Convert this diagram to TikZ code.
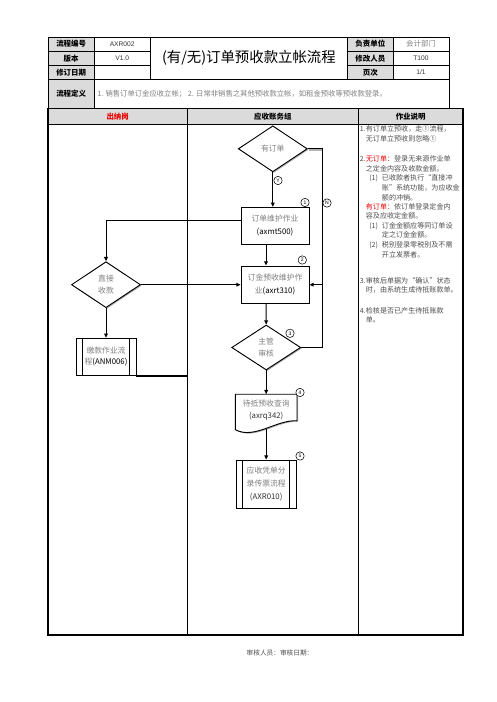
\documentclass[tikz,border=0pt]{standalone}
\usepackage{fontspec}
\setmainfont{Noto Sans CJK SC}
\newfontfamily\lat{Liberation Sans}
\usetikzlibrary{shapes.geometric,arrows.meta,calc,shadows}
\definecolor{hdr}{gray}{0.86}
\definecolor{txtgray}{gray}{0.5}
\definecolor{notec}{gray}{0.3}
\definecolor{redc}{RGB}{235,0,0}
\begin{document}
\begin{tikzpicture}[x=0.75pt,y=-0.75pt,
  every node/.style={inner sep=0pt},
  tline/.style={line width=0.7pt},
  tthick/.style={line width=1.1pt},
  lbl/.style={font=\bfseries\fontsize{5.6}{6.5}\selectfont},
  val/.style={font=\lat\fontsize{5}{6}\selectfont,text=black!80},
  ftxt/.style={font=\fontsize{5.85}{9}\selectfont,text=txtgray,align=center},
  shd/.style={drop shadow={shadow xshift=0.8pt,shadow yshift=-0.8pt,fill=gray!65,opacity=1}},
  procbox/.style={draw,fill=white,line width=0.7pt,ftxt,shd},
  decis/.style={diamond,draw,fill=white,line width=0.7pt,ftxt,shd,minimum width=51.75pt,minimum height=34.5pt},
  conn/.style={line width=0.75pt},
  arr/.style={conn,-{Triangle[length=3.2pt,width=2.8pt]}},
  stepnum/.style={circle,draw,line width=0.4pt,fill=white,minimum size=6.3pt,font=\lat\fontsize{3.8}{4}\selectfont},
  note/.style={anchor=west,font=\fontsize{5.3}{7}\selectfont,text=notec,text height=4.2pt,text depth=1.2pt},
]
\useasboundingbox (0,0) rectangle (496,702);

% ---------- header table ----------
\fill[hdr] (48,37) rectangle (94.3,108);
\fill[hdr] (347.7,37) rectangle (393,79.5);
\fill[hdr] (48,108.5) rectangle (463,124.3);
\draw[tline] (48,37) rectangle (449,108.5);
\draw[tline] (48,51) -- (150,51) (48,65.7) -- (150,65.7);
\draw[tline] (347.7,51) -- (449,51) (347.7,65.7) -- (449,65.7);
\draw[tline] (48,79.5) -- (449,79.5);
\draw[tline] (94.3,37) -- (94.3,108.5) (150,37) -- (150,79.5)
             (347.7,37) -- (347.7,79.5) (393,37) -- (393,79.5);

\node[lbl] (h1) at (71.2,44) {流程编号};
\node[lbl] (h2) at (71.2,58.4) {版本};
\node[lbl] (h3) at (71.2,72.6) {修订日期};
\node[lbl] (h4) at (71.2,93.8) {流程定义};
\node[val] (v1) at (122.2,44) {AXR002};
\node[val] (v2) at (122.2,58.4) {V1.0};
\node[lbl] (h5) at (370.4,44) {负责单位};
\node[lbl] (h6) at (370.4,58.4) {修改人员};
\node[lbl] (h7) at (370.4,72.6) {页次};
\node[font=\fontsize{5.6}{6.5}\selectfont,text=txtgray] (v5) at (421,44) {会计部门};
\node[val] (v6) at (421,58.4) {T100};
\node[val] (v7) at (421,72.6) {1/1};
\node[font=\fontsize{10.8}{12}\selectfont] (title) at (248.9,58.3) {(有/无)订单预收款立帐流程};
\node[anchor=west,font=\fontsize{5.5}{6.5}\selectfont,text=txtgray] (def) at (97,93.8)
  {1. 销售订单订金应收立帐； 2. 日常非销售之其他预收款立帐，如租金预收等预收款登录。};

% ---------- lane table ----------
\draw[tthick] (48,108.5) rectangle (463,635);
\draw[tthick] (48,124.3) -- (463,124.3);
\draw[tthick] (187.3,108.5) -- (187.3,635) (358.3,108.5) -- (358.3,635);
\node[lbl,text=redc] (l1) at (117.7,116.4) {出纳岗};
\node[lbl] (l2) at (272.8,116.4) {应收账务组};
\node[lbl] (l3) at (410.7,116.4) {作业说明};

% ---------- flow ----------
\coordinate (rx) at (322.7,0);
\coordinate (lx) at (187.3,0);

\node[decis] (d1) at (272.8,148.8) {有订单};
\node[procbox,minimum width=51pt,minimum height=27.75pt,font=\fontsize{5.85}{9.5}\selectfont] (b1) at (275,225.8)
  {订单维护作业\\\textcolor{black}{(axmt500)}};
\node[procbox,minimum width=51pt,minimum height=28pt,font=\fontsize{5.85}{10}\selectfont] (b2) at (275,284.7)
  {订金预收维护作\\业\textcolor{black}{(axrt310)}};
\node[decis,font=\fontsize{5.85}{8.6}\selectfont] (d2) at (106,284.7) {直接\\收款};
\node[procbox,minimum width=45pt,minimum height=27.75pt,font=\fontsize{5.85}{8}\selectfont] (b3) at (106,356.8)
  {缴款作业流\\程\textcolor{black}{(ANM006)}};
\node[decis,minimum height=33.75pt,font=\fontsize{5.85}{9.5}\selectfont] (d3) at (266.2,347.5) {主管\\审核};
\node[ftxt,minimum width=45.75pt,minimum height=24.75pt,font=\fontsize{5.85}{8.5}\selectfont] (doc) at (266.2,411) {};
\draw[line width=0.7pt,fill=white,shd]
  (doc.north west) -- ($(doc.north west)+(0,35.5)$)
  .. controls ($(doc.north west)+(19,45.5)$) and ($(doc.north east)+(-21,25.5)$) .. ($(doc.north east)+(0,26.5)$)
  -- (doc.north east) -- cycle;
\node[ftxt,font=\fontsize{5.85}{8.5}\selectfont] (doctxt) at (266.2,410) {待抵预收查询\\\textcolor{black!80}{(axrq342)}};
\node[procbox,minimum width=45pt,minimum height=36.2pt,font=\fontsize{5.85}{9.6}\selectfont] (b5) at (266.2,484.2)
  {应收凭单分\\录传票流程\\\textcolor{black!80}{(AXR010)}};

% inner lines of predefined process boxes
\draw[line width=0.7pt] ([xshift=5pt]b3.north west) -- ([xshift=5pt]b3.south west)
  ([xshift=-5.5pt]b3.north east) -- ([xshift=-5.5pt]b3.south east);
\draw[line width=0.7pt] ([xshift=5pt]b5.north west) -- ([xshift=5pt]b5.south west)
  ([xshift=-5.5pt]b5.north east) -- ([xshift=-5.5pt]b5.south east);

% connectors
\draw[gray!60,line width=1.6pt] ($(d1.east)+(1,1.3)$) -- ($(d1.east -| rx)+(-1,1.3)$);
\draw[arr] (d1.east) -| (rx |- b2.east) -- (b2.east);
\draw[conn] (d3.east) -| (rx |- b2.east);
\draw[arr] (d1.south) -- (d1.south |- b1.north);
\draw[arr] ([yshift=4.3pt]b1.west) -| (d2.north);
\draw[arr] ([xshift=-6.75pt]b1.south) -- ([xshift=-6.75pt]b2.north);
\draw[arr] (d2.east) -- (b2.west);
\draw[arr] (d2.south) -- (b3.north);
\draw[line width=1.1pt] (b3.south east) -| (lx |- d2.east);
\draw[arr] ([xshift=-6.75pt]b2.south) -- (d3.north);
\draw[arr] (d3.south) -- (doc.north);
\draw[arr] ($(doc.south)+(0,1.4)$) -- (b5.north);

% step markers
\node[stepnum] (sY) at (278,180.5) {Y};
\node[stepnum] (s1) at (305,202.5) {1};
\node[stepnum] (sN) at (327,203) {N};
\node[stepnum] (s2) at (302.3,260) {2};
\node[stepnum] (s3) at (290,333.3) {3};
\node[stepnum] (s4) at (300,392.5) {4};
\node[stepnum] (s5) at (300,456) {5};

% ---------- notes ----------
\node[note] (n1) at (359.5,130) {\makebox[4.6pt][l]{1.}有订单立预收，走①流程，};
\node[note] (n2) at (365.6,139.5) {无订单立预收则忽略①};
\node[note] (n3) at (359.5,160) {\makebox[4.6pt][l]{2.}\textcolor{redc}{无订单}：登录无来源作业单};
\node[note] (n4) at (365.6,169.5) {之定金内容及收款金额。};
\node[note] (n5) at (369,179) {\makebox[9.5pt][l]{(1)}已收款者执行“直接冲};
\node[note] (n6) at (381.7,188.5) {账”系统功能，为应收金};
\node[note] (n7) at (381.7,198) {额的冲销。};
\node[note] (n8) at (365.6,207.5) {\textcolor{redc}{有订单}：依订单登录定金内};
\node[note] (n9) at (365.6,217) {容及应收定金额。};
\node[note] (n10) at (369,226.5) {\makebox[9.5pt][l]{(1)}订金金额应等同订单设};
\node[note] (n11) at (381.7,236) {定之订金金额。};
\node[note] (n12) at (369,245.5) {\makebox[9.5pt][l]{(2)}税别登录零税别及不需};
\node[note] (n13) at (381.7,255) {开立发票者。};
\node[note] (n14) at (359.5,281) {\makebox[4.6pt][l]{3.}审核后单据为“确认”状态};
\node[note] (n15) at (365.6,290.5) {时，由系统生成待抵账款单。};
\node[note] (n16) at (359.5,311) {\makebox[4.6pt][l]{4.}检核是否已产生待抵账款};
\node[note] (n17) at (365.6,320.5) {单。};

% footer
\node[font=\fontsize{5}{6}\selectfont,text=black!70] (foot) at (280,652.7) {审核人员：审核日期：};
\end{tikzpicture}
\end{document}
